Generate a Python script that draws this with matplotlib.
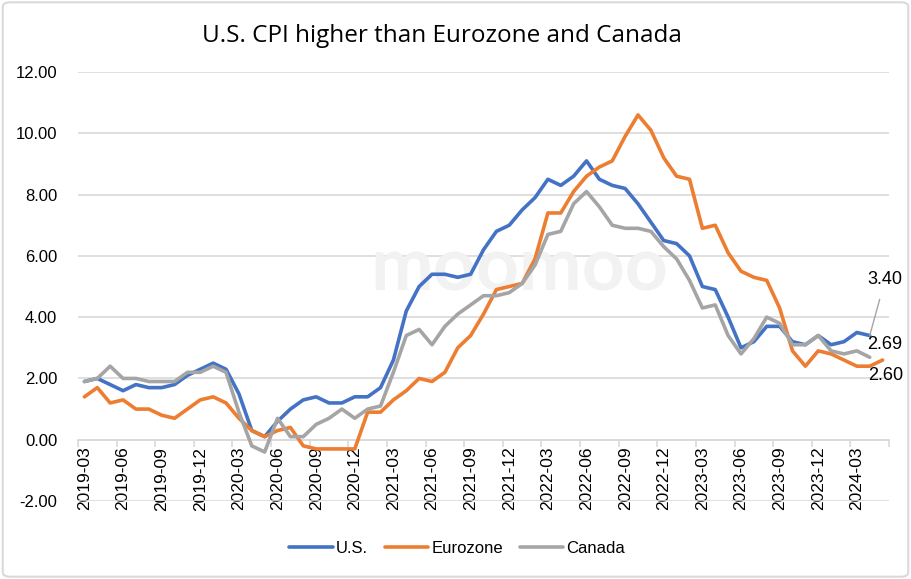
import matplotlib.pyplot as plt
from matplotlib.patches import FancyBboxPatch
import numpy as np

# monthly categories 2019-03 .. 2024-05
months = []
for yr in range(2019, 2025):
    for m in range(1, 13):
        if (yr == 2019 and m < 3) or (yr == 2024 and m > 5):
            continue
        months.append("%d-%02d" % (yr, m))

us = [1.9, 2.0, 1.8, 1.6, 1.8, 1.7, 1.7, 1.8, 2.1, 2.3,
      2.5, 2.3, 1.5, 0.3, 0.1, 0.6, 1.0, 1.3, 1.4, 1.2, 1.2, 1.4,
      1.4, 1.7, 2.6, 4.2, 5.0, 5.4, 5.4, 5.3, 5.4, 6.2, 6.8, 7.0,
      7.5, 7.9, 8.5, 8.3, 8.6, 9.1, 8.5, 8.3, 8.2, 7.7, 7.1, 6.5,
      6.4, 6.0, 5.0, 4.9, 4.0, 3.0, 3.2, 3.7, 3.7, 3.2, 3.1, 3.4,
      3.1, 3.2, 3.5, 3.4]

eurozone = [1.4, 1.7, 1.2, 1.3, 1.0, 1.0, 0.8, 0.7, 1.0, 1.3,
            1.4, 1.2, 0.7, 0.3, 0.1, 0.3, 0.4, -0.2, -0.3, -0.3, -0.3, -0.3,
            0.9, 0.9, 1.3, 1.6, 2.0, 1.9, 2.2, 3.0, 3.4, 4.1, 4.9, 5.0,
            5.1, 5.9, 7.4, 7.4, 8.1, 8.6, 8.9, 9.1, 9.9, 10.6, 10.1, 9.2,
            8.6, 8.5, 6.9, 7.0, 6.1, 5.5, 5.3, 5.2, 4.3, 2.9, 2.4, 2.9,
            2.8, 2.6, 2.4, 2.4, 2.6]

canada = [1.9, 2.0, 2.4, 2.0, 2.0, 1.9, 1.9, 1.9, 2.2, 2.2,
          2.4, 2.2, 0.9, -0.2, -0.4, 0.7, 0.1, 0.1, 0.5, 0.7, 1.0, 0.7,
          1.0, 1.1, 2.2, 3.4, 3.6, 3.1, 3.7, 4.1, 4.4, 4.7, 4.7, 4.8,
          5.1, 5.7, 6.7, 6.8, 7.7, 8.1, 7.6, 7.0, 6.9, 6.9, 6.8, 6.3,
          5.9, 5.2, 4.3, 4.4, 3.4, 2.8, 3.3, 4.0, 3.8, 3.1, 3.1, 3.4,
          2.9, 2.8, 2.9, 2.69]

series = [("U.S.", us, "#4472C4"), ("Eurozone", eurozone, "#ED7D31"),
          ("Canada", canada, "#A5A5A5")]

label_font = ["Liberation Sans", "DejaVu Sans"]

fig = plt.figure(figsize=(9.11, 5.79), dpi=100)
ax = fig.add_axes([0.0856, 0.1347, 0.8903, 0.7409])
ax.patch.set_visible(False)

# chart border
fig.patches.append(FancyBboxPatch((0.003, 0.004), 0.994, 0.992,
                                  boxstyle="round,pad=0,rounding_size=0.008",
                                  transform=fig.transFigure, fill=False,
                                  ec="#d9d9d9", lw=1.5))

# axis line sits at y = 0 (do this before styling ticks, it resets them)
for s in ["top", "right", "left"]:
    ax.spines[s].set_visible(False)
ax.spines["bottom"].set_position(("data", 0))
ax.spines["bottom"].set_color("#d9d9d9")
ax.spines["bottom"].set_linewidth(1.2)

# watermark, under the lines
ax.text(0.57, 0.535, "moomoo", fontsize=54, color="#f2f2f2", ha="center",
        va="center", family=["Lato", "DejaVu Sans"], fontweight="bold",
        transform=fig.transFigure, zorder=1)

x = np.arange(len(months))
for name, vals, col in series:
    ax.plot(x[:len(vals)], vals, color=col, lw=2.6, label=name,
            solid_joinstyle="round", solid_capstyle="round", zorder=3)

ax.set_ylim(-2, 12)
ax.set_yticks(np.arange(-2, 13, 2))
ax.set_yticklabels(["%.2f" % v for v in np.arange(-2, 13, 2)],
                   fontsize=12, color="#000000", family=label_font)
ax.grid(axis="y", color="#d9d9d9", lw=1.2)
ax.set_axisbelow(True)
ax.tick_params(axis="y", length=0, pad=15)

ax.set_xlim(-0.5, len(months) - 0.5)
ax.set_xticks(x[::3])
ax.set_xticks(np.arange(-0.5, len(months), 3), minor=True)
ax.set_xticklabels(months[::3], rotation=90, fontsize=12.5, color="#000000",
                   family=label_font, ha="center", va="top")
ax.tick_params(axis="x", which="major", length=0, pad=5)
ax.tick_params(axis="x", which="minor", length=5, color="#d9d9d9", width=1.2)

# end-point labels
ax.annotate("3.40", xy=(len(us) - 1, us[-1]), xytext=(11, 40),
            textcoords="offset points", ha="center", va="center", fontsize=13,
            family=label_font, annotation_clip=False,
            arrowprops=dict(arrowstyle="-", color="#a5a5a5", lw=1,
                            shrinkA=6, shrinkB=0))
ax.annotate("2.69", xy=(len(canada) - 1, canada[-1]), xytext=(11, 9),
            textcoords="offset points", ha="center", va="center", fontsize=13,
            family=label_font, annotation_clip=False)
ax.annotate("2.60", xy=(len(eurozone) - 1, eurozone[-1]), xytext=(2, -11),
            textcoords="offset points", ha="center", va="center", fontsize=13,
            family=label_font, annotation_clip=False)

fig.text(0.485, 0.938, "U.S. CPI higher than Eurozone and Canada", fontsize=17.5,
         ha="center", va="center", family=["Open Sans", "DejaVu Sans"])

fig.legend(loc="center", bbox_to_anchor=(0.502, 0.053), ncol=3, frameon=False,
           handlelength=2.6, columnspacing=1.0, handletextpad=0.2,
           prop={"family": label_font, "size": 12})

fig.savefig("out.png", dpi=100)
